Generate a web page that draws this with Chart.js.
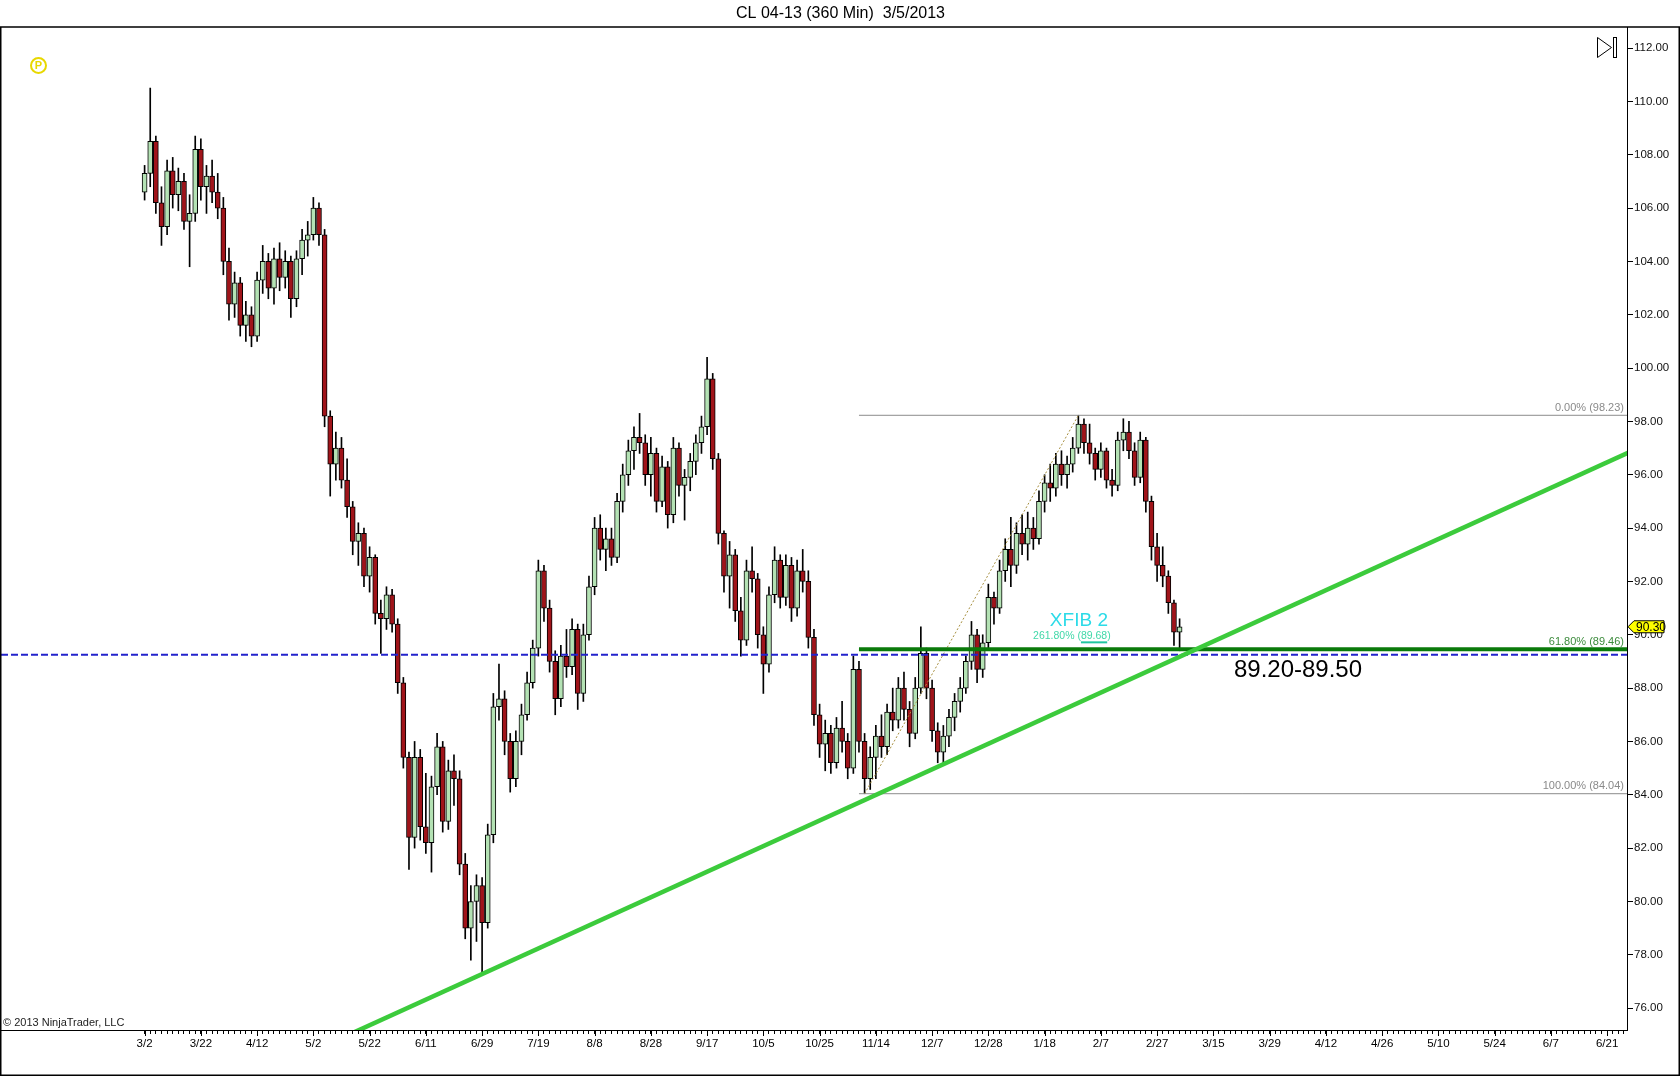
<!DOCTYPE html>
<html>
<head>
<meta charset="utf-8">
<title>CL 04-13 (360 Min) 3/5/2013</title>
<script src="https://cdn.jsdelivr.net/npm/chart.js@4.4.1/dist/chart.umd.min.js"></script>
<style>
  html, body { margin: 0; padding: 0; background: #fff; }
  #chart { display: block; }
</style>
</head>
<body>
<canvas id="chart" width="1680" height="1076"></canvas>
<script>
// date labels on the time axis, one every 20 slots
const xTickLabels = ['3/2', '3/22', '4/12', '5/2', '5/22', '6/11', '6/29', '7/19', '8/8', '8/28', '9/17',
  '10/5', '10/25', '11/14', '12/7', '12/28', '1/18', '2/7', '2/27', '3/15', '3/29', '4/12', '4/26',
  '5/10', '5/24', '6/7', '6/21'];
const yTickValues = [76, 78, 80, 82, 84, 86, 88, 90, 92, 94, 96, 98, 100, 102, 104, 106, 108, 110, 112];

// candles (one every 2 slots)
const opens = [
  106.6, 107.3, 108.5, 106.2, 105.3, 107.4, 106.5, 107.0, 105.5, 105.8,
  108.2, 106.8, 107.2, 106.6, 106.0, 104.0, 102.4, 103.2, 101.6, 102.0,
  101.2, 103.3, 104.0, 103.0, 104.1, 103.4, 104.0, 102.6, 104.1, 104.8,
  105.0, 106.0, 105.0, 98.2, 96.4, 97.0, 95.8, 94.8, 93.5, 93.8,
  92.2, 92.9, 90.8, 90.6, 91.5, 90.4, 88.2, 85.4, 82.4, 85.4,
  82.8, 82.2, 84.3, 85.8, 83.0, 84.9, 84.6, 81.4, 79.0, 80.0,
  80.6, 79.2, 82.5, 87.3, 87.6, 86.0, 84.6, 86.0, 87.0, 88.2,
  89.5, 92.4, 91.0, 89.0, 87.6, 89.2, 88.8, 90.2, 87.8, 90.0,
  91.8, 94.0, 93.2, 93.6, 92.9, 95.0, 96.0, 96.9, 97.4, 97.2,
  96.0, 96.8, 95.0, 96.3, 94.5, 97.0, 95.6, 95.9, 96.5, 97.2,
  97.8, 99.6, 96.6, 93.8, 92.2, 93.0, 90.9, 89.8, 92.4, 92.1,
  90.0, 88.9, 91.5, 92.8, 91.4, 92.6, 91.0, 92.4, 92.0, 89.9,
  87.0, 85.9, 86.3, 85.2, 86.5, 86.0, 85.0, 88.7, 86.0, 84.6,
  85.4, 86.2, 85.8, 87.1, 86.8, 88.0, 87.2, 86.3, 88.0, 89.3,
  88.0, 86.4, 85.6, 86.2, 86.9, 87.5, 88.0, 89.0, 90.0, 88.7,
  89.7, 91.4, 91.0, 92.4, 93.2, 92.6, 93.8, 93.4, 94.0, 93.6,
  95.0, 95.7, 95.5, 96.4, 96.0, 96.4, 97.0, 97.9, 97.2, 96.8,
  96.2, 96.9, 95.8, 95.6, 97.3, 97.6, 96.9, 95.9, 97.3, 95.0,
  93.3, 92.6, 92.2, 91.2, 90.1
];
const highs = [
  107.6, 110.5, 108.7, 106.8, 107.8, 107.9, 107.5, 107.3, 106.5, 108.7,
  108.6, 107.6, 107.8, 107.3, 106.4, 104.5, 103.6, 103.4, 102.5, 102.3,
  103.6, 104.6, 104.3, 104.5, 104.7, 104.4, 104.2, 104.4, 105.2, 105.5,
  106.4, 106.2, 105.2, 98.4, 97.6, 97.4, 96.6, 95.0, 94.2, 94.0,
  93.3, 93.0, 91.3, 91.8, 91.7, 90.6, 88.4, 85.6, 86.0, 85.7,
  84.8, 84.7, 86.3, 86.0, 85.3, 85.5, 84.9, 81.8, 80.6, 81.0,
  80.9, 82.9, 87.8, 88.9, 87.9, 86.3, 86.4, 87.4, 88.6, 89.8,
  92.8, 92.6, 91.3, 89.4, 89.6, 90.2, 90.6, 90.4, 90.4, 92.2,
  94.4, 94.5, 94.0, 94.0, 95.3, 96.4, 97.3, 97.8, 98.3, 97.5,
  97.4, 97.0, 96.7, 96.5, 97.4, 97.2, 96.2, 96.8, 97.5, 98.2,
  100.4, 99.8, 96.8, 93.9, 93.5, 93.2, 91.4, 92.8, 93.3, 92.3,
  90.3, 91.8, 93.3, 93.0, 93.0, 92.9, 92.8, 93.2, 92.4, 90.2,
  87.4, 86.8, 86.6, 86.9, 87.5, 86.3, 89.2, 89.0, 86.3, 85.8,
  86.6, 87.0, 87.4, 88.0, 88.4, 88.6, 87.5, 88.4, 90.3, 89.5,
  88.3, 86.7, 86.6, 87.2, 87.8, 88.4, 89.2, 90.5, 90.2, 90.0,
  91.9, 91.6, 92.8, 93.6, 94.4, 94.2, 94.5, 94.6, 94.4, 95.4,
  96.0, 96.4, 96.8, 96.9, 96.7, 97.4, 98.23, 98.1, 97.9, 97.0,
  97.2, 97.0, 96.2, 97.6, 98.1, 98.0, 97.2, 97.6, 97.4, 95.2,
  93.8, 93.3, 92.4, 91.3, 90.6
];
const lows = [
  106.3, 106.8, 105.8, 104.6, 105.0, 106.0, 105.9, 105.2, 103.8, 105.5,
  106.3, 105.8, 106.2, 105.6, 103.5, 101.8, 101.9, 101.2, 101.0, 100.8,
  101.0, 102.8, 102.6, 102.4, 102.9, 103.0, 101.9, 102.3, 103.5, 104.2,
  104.8, 104.6, 97.8, 95.2, 95.8, 95.5, 94.4, 93.0, 92.6, 91.8,
  91.6, 90.4, 89.3, 90.2, 90.1, 87.8, 85.0, 81.2, 82.0, 82.3,
  81.8, 81.1, 84.0, 82.6, 82.7, 83.6, 81.0, 78.6, 77.8, 78.5,
  77.3, 79.0, 82.2, 86.8, 85.5, 84.1, 84.3, 85.5, 86.8, 88.0,
  89.2, 90.5, 88.6, 87.0, 87.3, 88.4, 88.5, 87.2, 87.5, 89.8,
  91.5, 92.8, 92.4, 92.6, 92.7, 94.6, 95.6, 96.2, 96.8, 95.6,
  95.2, 94.6, 94.8, 94.0, 94.2, 95.2, 94.3, 95.4, 96.0, 96.8,
  97.5, 96.2, 93.4, 91.6, 91.0, 90.5, 89.2, 89.6, 91.6, 89.5,
  87.8, 88.6, 91.2, 91.0, 91.1, 90.5, 90.7, 91.6, 89.5, 86.6,
  85.4, 84.9, 84.8, 85.0, 85.6, 84.6, 84.8, 85.6, 84.04, 84.2,
  84.6, 85.4, 85.5, 86.4, 86.5, 86.8, 85.8, 86.1, 87.8, 87.6,
  86.0, 85.2, 85.2, 85.8, 86.4, 87.1, 87.8, 88.7, 88.2, 88.4,
  89.5, 90.4, 90.8, 92.0, 91.8, 92.3, 93.0, 92.8, 93.2, 93.4,
  94.6, 95.0, 95.2, 95.6, 95.5, 96.1, 96.8, 96.8, 96.4, 95.8,
  95.9, 95.5, 95.2, 95.4, 96.9, 96.6, 95.6, 95.7, 94.6, 92.8,
  92.0, 91.8, 90.8, 89.6, 89.4
];
const closes = [
  107.3, 108.5, 106.2, 105.3, 107.4, 106.5, 107.0, 105.5, 105.8, 108.2,
  106.8, 107.2, 106.6, 106.0, 104.0, 102.4, 103.2, 101.6, 102.0, 101.2,
  103.3, 104.0, 103.0, 104.1, 103.4, 104.0, 102.6, 104.1, 104.8, 105.0,
  106.0, 105.0, 98.2, 96.4, 97.0, 95.8, 94.8, 93.5, 93.8, 92.2,
  92.9, 90.8, 90.6, 91.5, 90.4, 88.2, 85.4, 82.4, 85.4, 82.8,
  82.2, 84.3, 85.8, 83.0, 84.9, 84.6, 81.4, 79.0, 80.0, 80.6,
  79.2, 82.5, 87.3, 87.6, 86.0, 84.6, 86.0, 87.0, 88.2, 89.5,
  92.4, 91.0, 89.0, 87.6, 89.2, 88.8, 90.2, 87.8, 90.0, 91.8,
  94.0, 93.2, 93.6, 92.9, 95.0, 96.0, 96.9, 97.4, 97.2, 96.0,
  96.8, 95.0, 96.3, 94.5, 97.0, 95.6, 95.9, 96.5, 97.2, 97.8,
  99.6, 96.6, 93.8, 92.2, 93.0, 90.9, 89.8, 92.4, 92.1, 90.0,
  88.9, 91.5, 92.8, 91.4, 92.6, 91.0, 92.4, 92.0, 89.9, 87.0,
  85.9, 86.3, 85.2, 86.5, 86.0, 85.0, 88.7, 86.0, 84.6, 85.4,
  86.2, 85.8, 87.1, 86.8, 88.0, 87.2, 86.3, 88.0, 89.3, 88.0,
  86.4, 85.6, 86.2, 86.9, 87.5, 88.0, 89.0, 90.0, 88.7, 89.7,
  91.4, 91.0, 92.4, 93.2, 92.6, 93.8, 93.4, 94.0, 93.6, 95.0,
  95.7, 95.5, 96.4, 96.0, 96.4, 97.0, 97.9, 97.2, 96.8, 96.2,
  96.9, 95.8, 95.6, 97.3, 97.6, 96.9, 95.9, 97.3, 95.0, 93.3,
  92.6, 92.2, 91.2, 90.1, 90.3
];

// drawing objects
const supportLevel = 89.25;
const fibNames = ['0.00%', '61.80%', '100.00%'];
const fibLevels = [98.23, 89.46, 84.04];
const fibStartX = 254;
const fibSwingX = [256, 332];
const fibSwingY = [84.04, 98.23];
const trendX = [40, 528];
const trendY = [73.44, 96.85];
const xfibTitle = 'XFIB 2';
const xfibRatio = '261.80%';
const xfibValue = 89.68;
const zoneText = '89.20-89.50';

const X_MIN = -51.06, X_MAX = 527.08;
const Y_MIN = 75.18, Y_MAX = 112.79;
const SLOT = 2;
const FONT = "'Liberation Sans', Arial, sans-serif";
const UP = '#b4e2b4';
const DOWN = '#a0141a';

Chart.defaults.font.family = FONT;
Chart.defaults.color = '#000';

function hLine(y, x0, x1) {
  return [{ x: x0, y }, { x: x1, y }];
}

const ntOverlay = {
  id: 'ntOverlay',
  beforeDraw(chart) {
    const { ctx, width, height } = chart;
    ctx.save();
    ctx.fillStyle = '#fff';
    ctx.fillRect(0, 0, width, height);
    ctx.restore();
  },
  afterDatasetsDraw(chart) {
    const { ctx, chartArea } = chart;
    const xs = chart.scales.x;
    const ys = chart.scales.y;
    ctx.save();

    // fib level captions
    ctx.font = `11px ${FONT}`;
    ctx.textAlign = 'right';
    ctx.textBaseline = 'bottom';
    fibLevels.forEach((lv, k) => {
      ctx.fillStyle = k === 1 ? '#3b8b3b' : '#8a8a8a';
      ctx.fillText(`${fibNames[k]} (${lv.toFixed(2)})`, chartArea.right - 3, ys.getPixelForValue(lv) - 2);
    });

    // XFIB caption
    ctx.textAlign = 'center';
    ctx.textBaseline = 'middle';
    ctx.fillStyle = '#2cdbe8';
    ctx.font = `19px ${FONT}`;
    ctx.fillText(xfibTitle, xs.getPixelForValue(332.2), ys.getPixelForValue(90.52));

    ctx.font = `10.5px ${FONT}`;
    ctx.fillStyle = '#40d8a8';
    const sub = `${xfibRatio} (${xfibValue.toFixed(2)})`;
    const cx = xs.getPixelForValue(329.7);
    const cy = ys.getPixelForValue(89.96);
    ctx.fillText(sub, cx, cy);
    const full = ctx.measureText(sub).width;
    const pre = ctx.measureText(`${xfibRatio} (`).width;
    const val = ctx.measureText(xfibValue.toFixed(2)).width;
    ctx.strokeStyle = '#1fc6a0';
    ctx.lineWidth = 2;
    ctx.beginPath();
    ctx.moveTo(cx - full / 2 + pre, cy + 6.5);
    ctx.lineTo(cx - full / 2 + pre + val, cy + 6.5);
    ctx.stroke();

    // zone caption
    ctx.fillStyle = '#000';
    ctx.font = `24px ${FONT}`;
    ctx.fillText(zoneText, xs.getPixelForValue(410.1), ys.getPixelForValue(88.66));

    // copyright
    ctx.font = `11px ${FONT}`;
    ctx.textAlign = 'left';
    ctx.fillStyle = '#222';
    ctx.fillText('\u00a9 2013 NinjaTrader, LLC', 3, chartArea.bottom - 7);
    ctx.restore();
  },
  afterDraw(chart) {
    const { ctx, chartArea, width, height } = chart;
    const xs = chart.scales.x;
    const ys = chart.scales.y;
    ctx.save();
    ctx.strokeStyle = '#000';

    // longer ticks under the date labels
    ctx.lineWidth = 1;
    ctx.beginPath();
    xTickLabels.forEach((_, k) => {
      const px = Math.round(xs.getPixelForValue(k * 20)) + 0.5;
      ctx.moveTo(px, chartArea.bottom);
      ctx.lineTo(px, chartArea.bottom + 6);
    });
    ctx.stroke();

    // outer frame
    ctx.lineWidth = 1.5;
    ctx.beginPath();
    ctx.moveTo(0, chartArea.top);
    ctx.lineTo(width, chartArea.top);
    ctx.moveTo(0.75, chartArea.top);
    ctx.lineTo(0.75, height);
    ctx.moveTo(width - 0.75, chartArea.top);
    ctx.lineTo(width - 0.75, height);
    ctx.moveTo(0, height - 0.75);
    ctx.lineTo(width, height - 0.75);
    ctx.stroke();

    // last price marker
    const last = closes[closes.length - 1];
    const py = ys.getPixelForValue(last);
    const x0 = chartArea.right + 1;
    ctx.lineWidth = 1;
    ctx.beginPath();
    ctx.moveTo(x0, py);
    ctx.lineTo(x0 + 6, py - 6);
    ctx.lineTo(x0 + 36, py - 6);
    ctx.lineTo(x0 + 36, py + 6);
    ctx.lineTo(x0 + 6, py + 6);
    ctx.closePath();
    ctx.fillStyle = '#ffff00';
    ctx.fill();
    ctx.stroke();
    ctx.fillStyle = '#000';
    ctx.font = `12px ${FONT}`;
    ctx.textAlign = 'left';
    ctx.textBaseline = 'middle';
    ctx.fillText(last.toFixed(2), x0 + 8, py + 0.5);

    // yellow P badge
    ctx.strokeStyle = '#e8d800';
    ctx.lineWidth = 2;
    ctx.beginPath();
    ctx.arc(38.5, 65.5, 7.5, 0, Math.PI * 2);
    ctx.stroke();
    ctx.fillStyle = '#e8d800';
    ctx.font = `bold 11px ${FONT}`;
    ctx.textAlign = 'center';
    ctx.fillText('P', 38.5, 66);

    // scroll-to-end button
    ctx.strokeStyle = '#000';
    ctx.lineWidth = 1;
    ctx.beginPath();
    ctx.moveTo(1597.5, 37.5);
    ctx.lineTo(1611.5, 47.5);
    ctx.lineTo(1597.5, 57.5);
    ctx.closePath();
    ctx.stroke();
    ctx.strokeRect(1613.5, 37.5, 3, 20);
    ctx.restore();
  }
};

const lineDefaults = { type: 'line', pointRadius: 0, fill: false, tension: 0 };

new Chart(document.getElementById('chart'), {
  type: 'bar',
  data: {
    datasets: [
      { ...lineDefaults, label: 'trend', order: 0, data: trendX.map((x, i) => ({ x, y: trendY[i] })),
        borderColor: '#3ccb3c', borderWidth: 4.5 },
      { ...lineDefaults, label: 'fib 61.8', order: 1, data: hLine(fibLevels[1], fibStartX, X_MAX),
        borderColor: '#0a7a0a', borderWidth: 4 },
      { ...lineDefaults, label: 'support', order: 1, data: hLine(supportLevel, X_MIN, X_MAX),
        borderColor: '#2323cc', borderWidth: 2, borderDash: [7, 3] },
      { ...lineDefaults, label: 'fib 0', order: 2, data: hLine(fibLevels[0], fibStartX, X_MAX),
        borderColor: '#8c8c8c', borderWidth: 1 },
      { ...lineDefaults, label: 'fib 100', order: 2, data: hLine(fibLevels[2], fibStartX, X_MAX),
        borderColor: '#8c8c8c', borderWidth: 1 },
      { ...lineDefaults, label: 'swing', order: 2, data: fibSwingX.map((x, i) => ({ x, y: fibSwingY[i] })),
        borderColor: '#a89040', borderWidth: 1, borderDash: [2, 2] },
      {
        label: 'body', order: 5, grouped: false,
        data: opens.map((o, i) => ({ x: i * SLOT, y: [o, closes[i]] })),
        backgroundColor: (c) => (closes[c.dataIndex] >= opens[c.dataIndex] ? UP : DOWN),
        borderColor: '#000', borderWidth: 1, borderSkipped: false,
        barThickness: 5, maxBarThickness: 5, barPercentage: 1, categoryPercentage: 1
      },
      {
        label: 'wick', order: 6, grouped: false,
        data: lows.map((l, i) => ({ x: i * SLOT, y: [l, highs[i]] })),
        backgroundColor: '#000', borderWidth: 0,
        barThickness: 1, maxBarThickness: 1, barPercentage: 1, categoryPercentage: 1
      }
    ]
  },
  options: {
    responsive: false,
    animation: false,
    devicePixelRatio: 1,
    events: [],
    layout: { padding: { left: 1, right: 0, top: 0, bottom: 0 } },
    plugins: {
      legend: { display: false },
      tooltip: { enabled: false },
      title: {
        display: true,
        text: 'CL 04-13 (360 Min)  3/5/2013',
        color: '#000',
        font: { size: 16, weight: 'normal', lineHeight: 1.2 },
        padding: { top: 4, bottom: 3.8 }
      }
    },
    scales: {
      x: {
        type: 'linear',
        min: X_MIN,
        max: X_MAX,
        offset: false,
        stacked: false,
        afterBuildTicks: (s) => {
          const t = [];
          for (let v = 0; v <= X_MAX; v += SLOT) t.push({ value: v });
          s.ticks = t;
        },
        afterFit: (s) => { s.height = 46; },
        grid: { offset: false, drawOnChartArea: false, tickLength: 4, color: '#000' },
        border: { color: '#000', width: 1 },
        ticks: {
          autoSkip: false,
          maxRotation: 0,
          padding: 3,
          color: '#000',
          font: { size: 11.5 },
          callback: (v) => (v % 20 === 0 && xTickLabels[v / 20] ? xTickLabels[v / 20] : '')
        }
      },
      y: {
        position: 'right',
        min: Y_MIN,
        max: Y_MAX,
        stacked: false,
        beginAtZero: false,
        afterBuildTicks: (s) => { s.ticks = yTickValues.map((v) => ({ value: v })); },
        afterFit: (s) => { s.width = 53; },
        grid: { drawOnChartArea: false, tickLength: 6, color: '#000' },
        border: { color: '#000', width: 1 },
        ticks: {
          padding: 1,
          color: '#111',
          font: { size: 11.5 },
          callback: (v) => Number(v).toFixed(2)
        }
      }
    }
  },
  plugins: [ntOverlay]
});
</script>
</body>
</html>
